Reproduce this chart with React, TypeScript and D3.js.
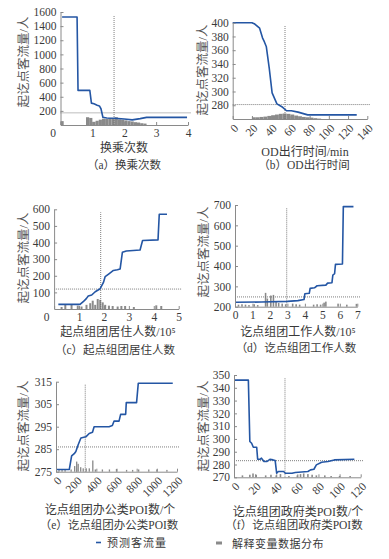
import React, { useEffect, useRef } from 'react';
import * as d3 from 'd3';

const FONT = "'Liberation Serif', 'Times New Roman', 'Noto Sans CJK SC', serif";
const LINE = '#2456a4';
const BAR = '#8a8a8a';
const REF = '#6f6f6f';
const AXIS = '#8a8a8a';
const TEXT = '#3a3a3a';

// (a) 换乘次数
const aLineX = [0.05, 0.52, 0.55, 0.92, 0.97, 1.05, 1.15, 1.22, 1.27, 1.33, 1.45, 1.7, 2.0, 2.25, 2.5, 2.7, 3.97];
const aLineY = [1530, 1530, 490, 490, 310, 300, 280, 270, 230, 110, 100, 95, 85, 72, 90, 108, 108];
const aBinX = [0.05, 0.85, 0.95, 1.05, 1.15, 1.25, 1.35, 1.45, 1.55, 1.65, 1.75, 1.85, 1.95, 2.05, 2.15, 2.25, 2.35, 2.45, 2.55, 2.65];
const aBinH = [55, 110, 100, 45, 60, 75, 90, 85, 100, 95, 110, 80, 75, 65, 55, 50, 40, 35, 25, 20];

// (b) OD出行时间
const bLineX = [0, 20, 23, 28, 31, 33, 35, 38, 41, 46, 52, 56, 61, 68, 78, 87, 129];
const bLineY = [400, 400, 398, 392, 378, 372, 365, 334, 298, 282, 277, 272, 272, 270, 266, 266, 266];
const bBinX = [22, 26, 30, 34, 38, 42, 46, 50, 54, 58, 62, 66, 70, 74, 78, 82, 86, 90];
const bBinH = [2.5, 2.5, 3, 3.5, 4.5, 5.5, 6.5, 7.5, 8, 7.5, 6.5, 5, 4, 3, 2.5, 2, 1.2, 0.6];

// (c) 起点组团居住人数
const cLineX = [0.17, 1.04, 1.17, 1.3, 1.37, 1.51, 1.65, 1.85, 1.98, 2.05, 2.2, 2.38, 2.54, 2.65, 2.74, 2.9, 3.45, 3.55, 4.17, 4.22, 4.53];
const cLineY = [28, 28, 44, 64, 78, 84, 104, 122, 160, 195, 212, 232, 236, 241, 341, 349, 355, 412, 416, 570, 570];
const cBinX = [0.3, 0.45, 0.7, 0.95, 1.1, 1.3, 1.45, 1.55, 1.65, 1.75, 1.85, 1.95, 2.05, 2.2, 2.35, 2.55, 2.7, 2.85, 3.2, 4.1, 4.3];
const cBinH = [12, 30, 30, 20, 15, 25, 35, 50, 25, 60, 55, 40, 25, 20, 18, 15, 18, 18, 12, 22, 18];

// (d) 讫点组团工作人数
const dLineX = [0.05, 1.5, 3.0, 3.6, 3.95, 4.0, 4.25, 4.3, 4.55, 4.7, 5.2, 5.3, 5.55, 5.6, 5.7, 5.75, 6.15, 6.2, 6.78];
const dLineY = [222, 223, 226, 230, 235, 264, 266, 290, 293, 303, 306, 316, 318, 355, 362, 408, 410, 692, 692];
const dBinX = [0.2, 0.4, 0.6, 0.8, 1.1, 1.3, 1.75, 1.85, 2.05, 2.2, 2.35, 2.5, 2.7, 2.9, 3.3, 3.5, 3.7, 4.5, 4.7, 4.9, 5.1, 5.2, 5.9, 6.4, 6.95];
const dBinH = [10, 12, 10, 8, 12, 8, 68, 40, 55, 58, 25, 18, 15, 12, 15, 12, 10, 10, 12, 10, 20, 25, 15, 10, 14];

// (e) 讫点组团办公类POI数
const eLineX = [10, 132, 155, 181, 197, 220, 247, 296, 329, 362, 378, 526, 559, 576, 625, 641, 691, 697, 799, 816, 1158];
const eLineY = [276, 276, 282, 283, 284, 287, 290, 290.5, 292, 292.5, 295, 295, 295.5, 297.5, 297.5, 300.5, 300.5, 305.7, 305.7, 314.3, 314.3];
const eBinX = [30, 60, 90, 150, 185, 205, 220, 245, 270, 300, 330, 365, 390, 460, 530, 600, 700, 760, 820, 920, 1000, 1100];
const eBinH = [1.2, 1.2, 0.8, 1.0, 2.5, 4.5, 3.5, 2.0, 1.5, 1.5, 1.5, 5.0, 1.0, 1.0, 1.0, 1.2, 0.8, 0.8, 1.0, 1.0, 1.0, 0.8];

// (f) 讫点组团政府类POI数
const fLineX = [0, 13.6, 15, 16.7, 18.3, 21.5, 22.4, 24.6, 26, 28.4, 31, 34, 37, 39, 40.4, 42, 47, 48.6, 55, 58, 70, 72.5, 75.7, 78, 83, 89, 95, 114];
const fLineY = [346, 346, 298, 296.6, 293.5, 293.5, 284.1, 284.1, 285, 282.3, 282.3, 284, 283.6, 283.1, 273.2, 274.5, 274.5, 273.2, 273.2, 273.7, 274.5, 275.8, 276.3, 279.7, 281.8, 282.3, 283.6, 284.1];
const fBinX = [8, 15, 18, 21, 30, 35, 40, 44, 52, 60, 63, 66, 70, 74, 78, 86, 92, 100, 110];
const fBinH = [1.5, 2, 3, 2, 1.5, 2, 1.5, 2.5, 1, 1.5, 2.5, 3, 2.5, 2, 1.5, 1.5, 1, 1, 1];

const yTitle = '起讫点客流量/人';

const panels = [
  {
    lineX: aLineX, lineY: aLineY, binX: aBinX, binH: aBinH, binW: 0.1,
    refX: 1.68, refY: 172,
    xDomain: [0, 4], xRange: [60.5, 188], yDomain: [0, 1600], yRange: [125, 12],
    xTicks: d3.range(0, 5, 1), yTicks: d3.range(200, 1601, 200),
    rotate: false, shiftZero: true,
    yTitlePos: [24, 62], xTitle: '换乘次数', xTitlePos: [124, 148],
    caption: '（a）换乘次数', captionPos: [124, 165],
  },
  {
    lineX: bLineX, lineY: bLineY, binX: bBinX, binH: bBinH, binW: 4,
    refX: 54.4, refY: 281,
    xDomain: [0, 140], xRange: [232.7, 367.3], yDomain: [260, 400], yRange: [119, 22.7],
    xTicks: d3.range(0, 141, 20), yTicks: d3.range(280, 401, 20),
    rotate: true, shiftZero: false,
    yTitlePos: [203, 70], xTitle: 'OD出行时间/min', xTitlePos: [305, 152],
    caption: '（b）OD出行时间', captionPos: [304, 165],
  },
  {
    lineX: cLineX, lineY: cLineY, binX: cBinX, binH: cBinH, binW: 0.08,
    refX: 1.87, refY: 120,
    xDomain: [0, 5], xRange: [54.1, 178.7], yDomain: [0, 600], yRange: [309, 209.3],
    xTicks: d3.range(0, 6, 1), yTicks: d3.range(100, 601, 100),
    rotate: false, shiftZero: true,
    yTitlePos: [24, 258], xTitle: '起点组团居住人数/10⁵', xTitlePos: [118, 332],
    caption: '（c）起点组团居住人数', captionPos: [115, 350],
  },
  {
    lineX: dLineX, lineY: dLineY, binX: dBinX, binH: dBinH, binW: 0.09,
    refX: 2.96, refY: 248,
    xDomain: [0, 7], xRange: [235, 357.3], yDomain: [200, 700], yRange: [306.7, 205],
    xTicks: d3.range(0, 8, 1), yTicks: d3.range(200, 701, 100),
    rotate: false, shiftZero: false,
    yTitlePos: [204, 252], xTitle: '讫点组团工作人数/10⁵', xTitlePos: [298, 332],
    caption: '（d）讫点组团工作人数', captionPos: [296, 348],
  },
  {
    lineX: eLineX, lineY: eLineY, binX: eBinX, binH: eBinH, binW: 13,
    refX: 290, refY: 286,
    xDomain: [0, 1200], xRange: [56, 177], yDomain: [275, 315], yRange: [471.7, 381.7],
    xTicks: d3.range(0, 1201, 200), yTicks: d3.range(275, 316, 10),
    rotate: true, shiftZero: false,
    yTitlePos: [24, 426], xTitle: '讫点组团办公类POI数/个', xTitlePos: [110, 510],
    caption: '（e）讫点组团办公类POI数', captionPos: [109, 525],
  },
  {
    lineX: fLineX, lineY: fLineY, binX: fBinX, binH: fBinH, binW: 1.5,
    refX: 48.3, refY: 283,
    xDomain: [0, 120], xRange: [234, 360.7], yDomain: [270, 350], yRange: [477.3, 375],
    xTicks: d3.range(0, 121, 20), yTicks: d3.range(270, 351, 10),
    rotate: true, shiftZero: false,
    yTitlePos: [204, 426], xTitle: '讫点组团政府类POI数/个', xTitlePos: [298, 512],
    caption: '（f）讫点组团政府类POI数', captionPos: [294, 525],
  },
];

export default function App() {
  const ref = useRef<SVGSVGElement>(null);

  useEffect(() => {
    const svg = d3.select(ref.current);
    svg.selectAll('*').remove();

    panels.forEach((p) => {
      const g = svg.append('g');
      const x = d3.scaleLinear().domain(p.xDomain).range(p.xRange);
      const y = d3.scaleLinear().domain(p.yDomain).range(p.yRange);
      const base = p.yDomain[0];

      // histogram of the explanatory variable
      g.selectAll('rect.bin')
        .data(p.binX.map((v, i) => ({ v, h: p.binH[i] })))
        .enter()
        .append('rect')
        .attr('class', 'bin')
        .attr('x', (d) => x(d.v - p.binW / 2))
        .attr('width', (d) => x(d.v + p.binW / 2) - x(d.v - p.binW / 2))
        .attr('y', (d) => y(base + d.h))
        .attr('height', (d) => y(base) - y(base + d.h))
        .attr('fill', BAR);

      // dotted reference lines
      g.append('line')
        .attr('x1', p.xRange[0]).attr('x2', p.xRange[1] + 3)
        .attr('y1', y(p.refY)).attr('y2', y(p.refY))
        .attr('stroke', REF).attr('stroke-width', 0.9).attr('stroke-dasharray', '1,1');
      g.append('line')
        .attr('x1', x(p.refX)).attr('x2', x(p.refX))
        .attr('y1', p.yRange[0]).attr('y2', p.yRange[1] + 3)
        .attr('stroke', REF).attr('stroke-width', 0.9).attr('stroke-dasharray', '1,1');

      // predicted flow
      const line = d3.line<number>()
        .x((d, i) => x(p.lineX[i]))
        .y((d) => y(d));
      g.append('path')
        .datum(p.lineY)
        .attr('d', line)
        .attr('fill', 'none')
        .attr('stroke', LINE)
        .attr('stroke-width', 1.6)
        .attr('stroke-linejoin', 'round');

      // axes
      const xAxis = d3.axisBottom(x)
        .tickValues(p.xTicks)
        .tickSizeInner(-3)
        .tickSizeOuter(0)
        .tickPadding(4)
        .tickFormat(d3.format('d'));
      const gx = g.append('g')
        .attr('transform', `translate(0,${p.yRange[0]})`)
        .call(xAxis);

      const yAxis = d3.axisLeft(y)
        .tickValues(p.yTicks)
        .tickSizeInner(-3)
        .tickSizeOuter(0)
        .tickPadding(4)
        .tickFormat(d3.format('d'));
      const gy = g.append('g')
        .attr('transform', `translate(${p.xRange[0]},0)`)
        .call(yAxis);

      [gx, gy].forEach((ax) => {
        ax.select('.domain').attr('stroke', AXIS);
        ax.selectAll('.tick line').attr('stroke', AXIS);
        ax.selectAll('text')
          .attr('fill', TEXT)
          .style('font-family', FONT)
          .style('font-size', '11.5px');
      });

      if (p.rotate) {
        gx.selectAll('.tick text')
          .attr('y', 0)
          .attr('x', 0)
          .attr('dy', '0.35em')
          .attr('text-anchor', 'end')
          .attr('transform', 'translate(3,7) rotate(-45)');
      }
      if (p.shiftZero) {
        gx.selectAll<SVGTextElement, number>('.tick text')
          .filter((d) => d === 0)
          .attr('dx', -8);
      }

      // titles
      g.append('text')
        .attr('transform', `translate(${p.yTitlePos[0]},${p.yTitlePos[1]}) rotate(-90)`)
        .attr('text-anchor', 'middle')
        .attr('dominant-baseline', 'central')
        .attr('fill', '#555')
        .style('font-family', FONT)
        .style('font-size', '12.5px')
        .text(yTitle);

      g.append('text')
        .attr('x', p.xTitlePos[0]).attr('y', p.xTitlePos[1])
        .attr('text-anchor', 'middle')
        .attr('dominant-baseline', 'central')
        .attr('fill', TEXT)
        .style('font-family', FONT)
        .style('font-size', '12px')
        .text(p.xTitle);

      g.append('text')
        .attr('x', p.captionPos[0]).attr('y', p.captionPos[1])
        .attr('text-anchor', 'middle')
        .attr('dominant-baseline', 'central')
        .attr('fill', TEXT)
        .style('font-family', FONT)
        .style('font-size', '11.5px')
        .text(p.caption);
    });

    // legend
    const lg = svg.append('g');
    lg.append('line')
      .attr('x1', 96).attr('x2', 101).attr('y1', 542.5).attr('y2', 542.5)
      .attr('stroke', LINE).attr('stroke-width', 1.6);
    lg.append('text')
      .attr('x', 107).attr('y', 543)
      .attr('dominant-baseline', 'central')
      .attr('fill', TEXT)
      .style('font-family', FONT)
      .style('font-size', '11px')
      .style('letter-spacing', '1px')
      .text('预测客流量');
    lg.append('rect')
      .attr('x', 216).attr('y', 541.5).attr('width', 6).attr('height', 3)
      .attr('fill', BAR);
    lg.append('text')
      .attr('x', 232).attr('y', 543.5)
      .attr('dominant-baseline', 'central')
      .attr('fill', TEXT)
      .style('font-family', FONT)
      .style('font-size', '11px')
      .style('letter-spacing', '0.5px')
      .text('解释变量数据分布');
  }, []);

  return (
    <svg
      ref={ref}
      width={389}
      height={559}
      style={{ position: 'absolute', left: 0, top: 0, background: '#fff' }}
    />
  );
}
